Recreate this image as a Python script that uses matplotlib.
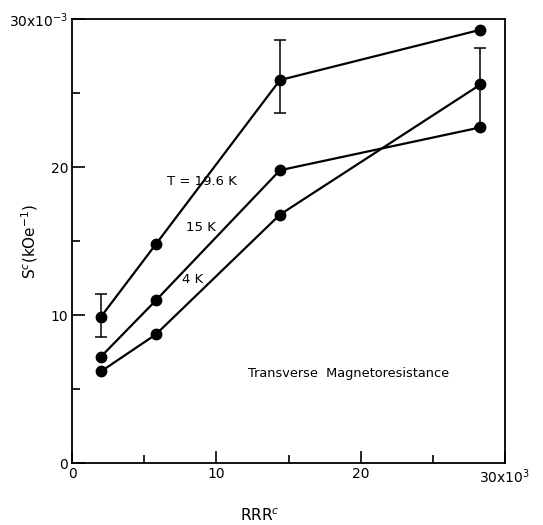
import matplotlib
matplotlib.use('Agg')
from matplotlib import pyplot as plt
from matplotlib.ticker import MultipleLocator

# datos (RRR en 10^3, S en 10^-3 kOe^-1)
rrr = [2.0, 5.8, 14.4, 28.3]
s_196 = [9.9, 14.8, 25.9, 29.3]
s_15 = [7.2, 11.0, 19.8, 22.7]
s_4 = [6.2, 8.7, 16.8, 25.6]

# barras de error (x, y, abajo, arriba)
err_x = [2.0, 14.4, 28.3]
err_y = [9.9, 25.9, 25.6]
err_low = [1.4, 2.2, 2.9]
err_high = [1.5, 2.7, 2.5]

x_ticks = [0, 10, 20, 30]
x_labels = ['0', '10', '20', r'30x10$^3$']
y_ticks = [0, 10, 20, 30]
y_labels = ['0', '10', '20', r'30x10$^{-3}$']

plt.rcParams['font.family'] = ['DejaVu Sans']
fig = plt.figure(figsize=(5.43, 5.25), dpi=100)
ax = fig.add_axes([0.133, 0.118, 0.797, 0.845])

for serie in (s_196, s_15, s_4):
    ax.plot(rrr, serie, color='black', linewidth=1.6, marker='o', markersize=7.5)

ax.errorbar(err_x, err_y, yerr=[err_low, err_high], fmt='none', ecolor='black',
            elinewidth=1.1, capsize=4, capthick=1.1)

ax.set_xlim(0, 30)
ax.set_ylim(0, 30)
ax.set_xticks(x_ticks)
ax.set_xticklabels(x_labels)
ax.set_yticks(y_ticks)
ax.set_yticklabels(y_labels)
ax.xaxis.set_minor_locator(MultipleLocator(5))
ax.yaxis.set_minor_locator(MultipleLocator(5))
ax.tick_params(which='both', direction='in', top=False, right=False, width=1.2, labelsize=10)
ax.tick_params(which='major', length=9, pad=3)
ax.tick_params(which='minor', length=6)
for sp in ax.spines.values():
    sp.set_linewidth(1.3)

ax.text(6.6, 18.8, 'T = 19.6 K', fontsize=9.5)
ax.text(7.9, 15.7, '15 K', fontsize=9.5)
ax.text(7.6, 12.2, '4 K', fontsize=9.5)
ax.text(12.2, 5.8, 'Transverse  Magnetoresistance', fontsize=9.3)

ax.set_ylabel(r'S$^c$(kOe$^{-1}$)', fontsize=11)
ax.yaxis.set_label_coords(-0.075, 0.5)
ax.set_xlabel(r'RRR$^c$', fontsize=11)
ax.xaxis.set_label_coords(0.434, -0.1)

plt.savefig('out.png', dpi=100)
